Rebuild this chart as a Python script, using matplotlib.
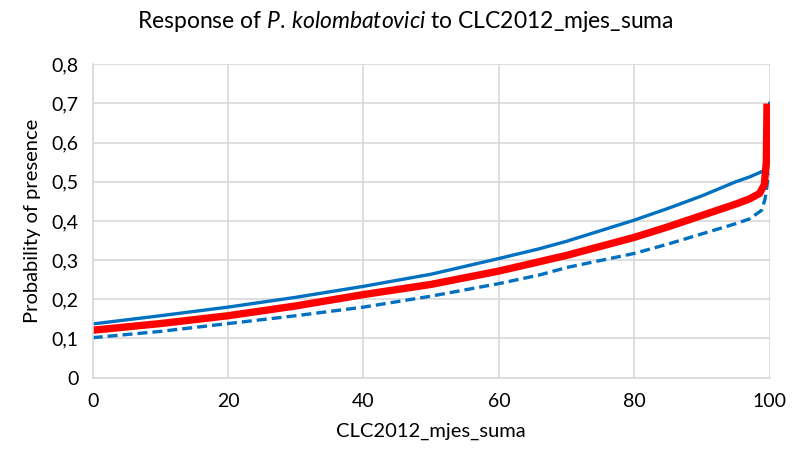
import matplotlib
matplotlib.use("Agg")
import matplotlib.pyplot as plt

plt.rcParams['font.family'] = ['Lato', 'DejaVu Sans']
plt.rcParams['mathtext.fontset'] = 'custom'
plt.rcParams['mathtext.rm'] = 'Lato'
plt.rcParams['mathtext.it'] = 'Lato:italic'

# data
x_mean = [0, 10, 20, 30, 40, 50, 60, 66, 70, 80, 85, 90, 95, 97, 98.5, 99.2, 99.5, 99.6]
y_mean = [0.121, 0.138, 0.158, 0.183, 0.212, 0.238, 0.272, 0.296, 0.312, 0.358, 0.385, 0.414, 0.443, 0.456, 0.470, 0.492, 0.55, 0.69]

x_upper = [0, 10, 20, 30, 40, 50, 60, 66, 70, 80, 85, 90, 95, 97, 99, 99.7, 99.9, 100]
y_upper = [0.137, 0.158, 0.180, 0.205, 0.233, 0.264, 0.304, 0.329, 0.348, 0.402, 0.432, 0.464, 0.500, 0.512, 0.527, 0.535, 0.60, 0.70]

x_lower = [0, 10, 20, 30, 40, 50, 60, 66, 70, 80, 85, 90, 95, 97, 98.8, 99.3, 99.6, 99.8]
y_lower = [0.102, 0.118, 0.138, 0.158, 0.180, 0.208, 0.240, 0.262, 0.281, 0.317, 0.341, 0.367, 0.393, 0.405, 0.427, 0.455, 0.49, 0.52]

x_ticks = [0, 20, 40, 60, 80, 100]
y_ticks = [0, 0.1, 0.2, 0.3, 0.4, 0.5, 0.6, 0.7, 0.8]
y_ticklabels = ['0', '0,1', '0,2', '0,3', '0,4', '0,5', '0,6', '0,7', '0,8']

fig = plt.figure(figsize=(7.94, 4.55), dpi=100)
ax = fig.add_axes([0.1167, 0.170, 0.8527, 0.689])

ax.plot(x_lower, y_lower, color='#0070C0', lw=2.4, linestyle=(0, (3, 1.5)), solid_capstyle='butt')
ax.plot(x_upper, y_upper, color='#0070C0', lw=2.4)
ax.plot(x_mean, y_mean, color='#FF0000', lw=5.3)

ax.set_xlim(0, 100)
ax.set_ylim(0, 0.8)
ax.set_xticks(x_ticks)
ax.set_yticks(y_ticks)
ax.set_yticklabels(y_ticklabels)
ax.grid(True, color='#D9D9D9', lw=1.2)
ax.set_axisbelow(True)
for s in ['top', 'right']:
    ax.spines[s].set_visible(False)
for s in ['left', 'bottom']:
    ax.spines[s].set_color('#D9D9D9')
    ax.spines[s].set_linewidth(1.2)
ax.tick_params(length=0, labelsize=14, pad=10)
ax.tick_params(axis='x', pad=11)

ax.set_xlabel('CLC2012_mjes_suma', fontsize=14.5, labelpad=9)
ax.set_ylabel('Probability of presence', fontsize=14.5, labelpad=8)

fig.text(0.510, 0.952, r'Response of $\it{P.\,kolombatovici}$ to CLC2012_mjes_suma',
         ha='center', va='center', fontsize=16.5)

fig.savefig('out.png', dpi=100)
